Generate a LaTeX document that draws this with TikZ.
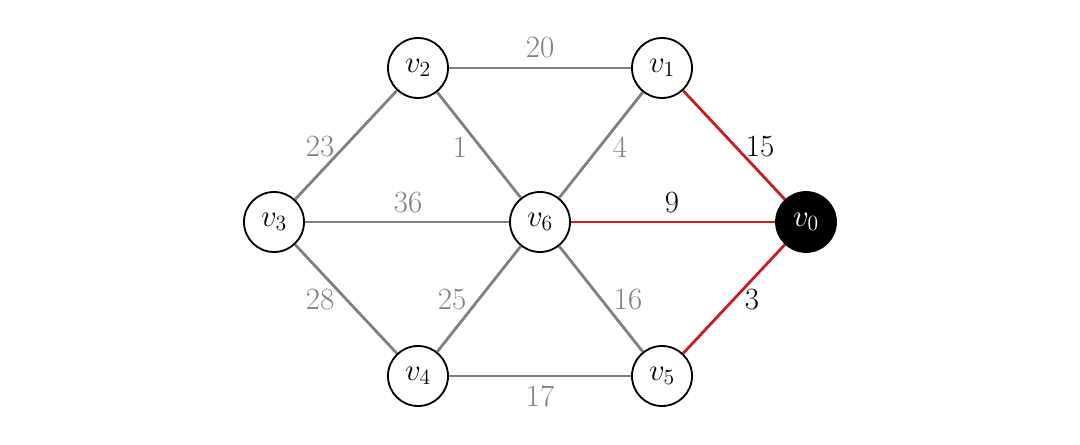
\documentclass[tikz,border=0pt]{standalone}
\usepackage{fix-cm}
\usepackage{fontspec}
\usepackage{xcolor}
\definecolor{edgegray}{RGB}{128,128,128}
\definecolor{edgered}{RGB}{200,30,35}
\begin{document}
\begin{tikzpicture}[x=1cm,y=1cm,
  vert/.style={circle, draw=black, line width=1.3pt, fill=white, minimum size=1.5cm, inner sep=0pt, font=\fontsize{22}{24}\selectfont},
  src/.style={vert, fill=black, text=white},
  gedge/.style={draw=edgegray, line width=2pt},
  redge/.style={draw=edgered, line width=2pt},
  glab/.style={text=edgegray, font=\fontsize{22}{24}\selectfont, inner sep=0pt},
  rlab/.style={text=black, font=\fontsize{22}{24}\selectfont, inner sep=0pt}]
\useasboundingbox (0,0) rectangle (27,11.1);
\node[vert] (v2) at (10.45,9.4) {$v_2$};
\node[vert] (v1) at (16.55,9.4) {$v_1$};
\node[vert] (v3) at (6.85,5.55) {$v_3$};
\node[vert] (v6) at (13.5,5.55) {$v_6$};
\node[src]  (v0) at (20.15,5.55) {$v_0$};
\node[vert] (v4) at (10.45,1.7) {$v_4$};
\node[vert] (v5) at (16.55,1.7) {$v_5$};
\draw[gedge] (v2) -- (v1);
\draw[gedge] (v3) -- (v2);
\draw[gedge] (v2) -- (v6);
\draw[gedge] (v6) -- (v1);
\draw[gedge] (v3) -- (v6);
\draw[gedge] (v3) -- (v4);
\draw[gedge] (v4) -- (v6);
\draw[gedge] (v6) -- (v5);
\draw[gedge] (v4) -- (v5);
\draw[redge] (v1) -- (v0);
\draw[redge] (v6) -- (v0);
\draw[redge] (v5) -- (v0);
\node[glab] (l20) at (13.5,9.9) {20};
\node[glab] (l23) at (8.0,7.425) {23};
\node[glab] (l1) at (11.5,7.425) {1};
\node[glab] (l4) at (15.5,7.425) {4};
\node[rlab] (l15) at (19.0,7.425) {15};
\node[glab] (l36) at (10.2,6.025) {36};
\node[rlab] (l9) at (16.8,6.025) {9};
\node[glab] (l28) at (8.0,3.6) {28};
\node[glab] (l25) at (11.3,3.6) {25};
\node[glab] (l16) at (15.7,3.6) {16};
\node[rlab] (l3) at (18.8,3.6) {3};
\node[glab] (l17) at (13.5,1.2) {17};
\end{tikzpicture}
\end{document}
